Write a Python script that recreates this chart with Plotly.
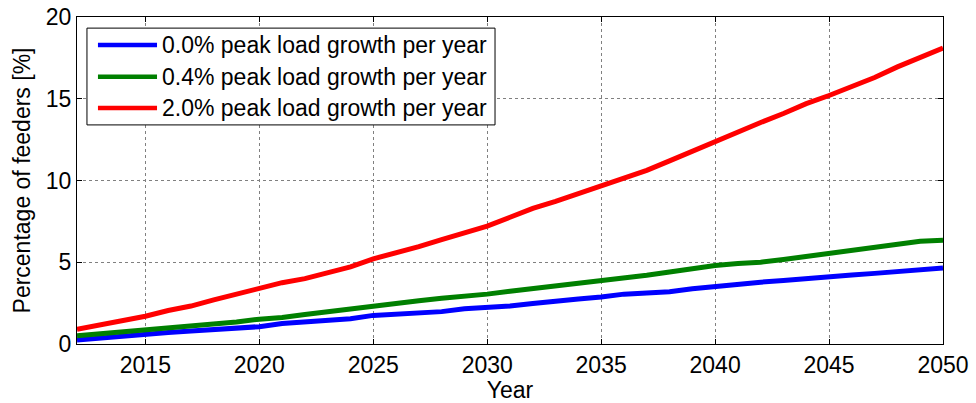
import plotly.graph_objects as go

years = list(range(2012, 2051))

growth_0_0 = [0.25, 0.38, 0.5, 0.6, 0.7, 0.8, 0.9, 0.98, 1.06, 1.25,
              1.35, 1.45, 1.55, 1.75, 1.82, 1.9, 1.98, 2.15, 2.22, 2.32,
              2.48, 2.58, 2.75, 2.88, 3.05, 3.12, 3.2, 3.38, 3.52, 3.68,
              3.78, 3.88, 3.97, 4.12, 4.22, 4.32, 4.42, 4.5, 4.65]
growth_0_4 = [0.5, 0.62, 0.72, 0.85, 1.0, 1.15, 1.25, 1.35, 1.52, 1.62,
              1.8, 1.98, 2.15, 2.33, 2.45, 2.65, 2.8, 2.9, 3.05, 3.22,
              3.38, 3.52, 3.66, 3.82, 4.0, 4.2, 4.4, 4.6, 4.8, 4.92,
              5.0, 5.17, 5.35, 5.52, 5.7, 5.88, 6.07, 6.28, 6.35]
growth_2_0 = [0.9, 1.15, 1.4, 1.7, 2.05, 2.32, 2.7, 3.05, 3.4, 3.75,
              4.0, 4.35, 4.72, 5.21, 5.55, 5.95, 6.39, 6.78, 7.21, 7.75,
              8.3, 8.72, 9.18, 9.65, 10.12, 10.62, 11.2, 11.8, 12.4, 12.95,
              13.55, 14.1, 14.7, 15.2, 15.75, 16.3, 16.95, 17.55, 18.1]

names = ["0.0% peak load growth per year",
         "0.4% peak load growth per year",
         "2.0% peak load growth per year"]
series = [growth_0_0, growth_0_4, growth_2_0]
colours = ["#0000FF", "#008000", "#FF0000"]

FONT = "Liberation Sans, Arial, sans-serif"
FS = 23

fig = go.Figure()

for name, values, colour in zip(names, series, colours):
    fig.add_trace(
        go.Scatter(
            x=years,
            y=values,
            mode="lines",
            name=name,
            line=dict(color=colour, width=5),
            showlegend=False,
        )
    )

# MATLAB style legend box, drawn by hand so the line samples are long
fig.add_shape(type="rect", xref="paper", yref="paper",
              x0=0.0115, x1=0.4827, y0=0.670, y1=0.966,
              line=dict(color="black", width=1), fillcolor="white", layer="above")
legend_y = [0.914, 0.817, 0.722]
for name, colour, ly in zip(names, colours, legend_y):
    fig.add_shape(type="line", xref="paper", yref="paper",
                  x0=0.0242, x1=0.0924, y0=ly, y1=ly,
                  line=dict(color=colour, width=4.5), layer="above")
    fig.add_annotation(xref="paper", yref="paper", x=0.0955, y=ly,
                       text=name, showarrow=False, xanchor="left", yanchor="middle",
                       font=dict(family=FONT, size=FS, color="black"))

axis_common = dict(
    showline=True,
    linecolor="black",
    linewidth=1,
    mirror="allticks",
    ticks="inside",
    ticklen=5,
    tickcolor="black",
    showgrid=True,
    gridcolor="#808080",
    griddash="dot",
    gridwidth=1,
    zeroline=False,
    automargin=False,
    tickfont=dict(family=FONT, size=FS, color="black"),
)

fig.update_xaxes(
    range=[2012, 2050],
    tickvals=[2015, 2020, 2025, 2030, 2035, 2040, 2045, 2050],
    title=dict(text="Year", font=dict(family=FONT, size=FS, color="black"), standoff=8),
    **axis_common,
)
fig.update_yaxes(
    range=[0, 20],
    tickvals=[0, 5, 10, 15, 20],
    title=dict(text="Percentage of feeders [%]", font=dict(family=FONT, size=FS, color="black"), standoff=8),
    **axis_common,
)

fig.update_layout(
    width=976,
    height=403,
    margin=dict(l=77, r=33, t=17, b=59),
    plot_bgcolor="white",
    paper_bgcolor="white",
    font=dict(family=FONT, size=FS, color="black"),
)

# drop the browser's default page margin so the figure fills the window
fig.write_html("out.html", config={"displayModeBar": False},
               post_script="document.body.style.margin='0';")
